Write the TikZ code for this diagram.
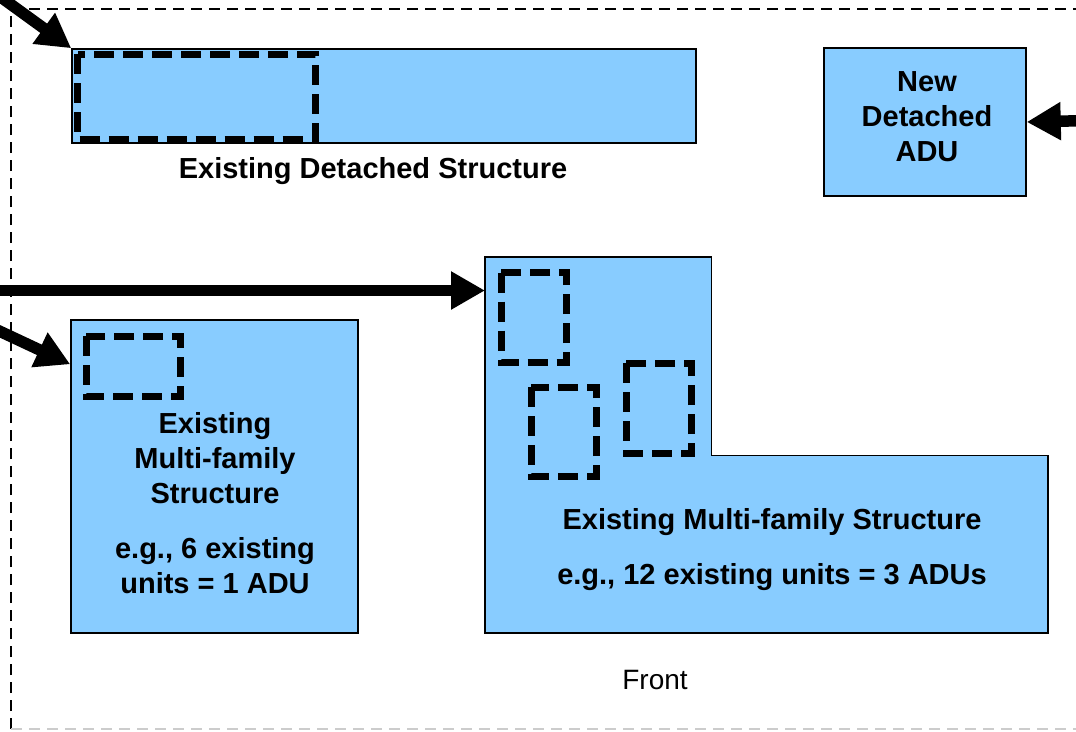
\documentclass[tikz,border=0pt]{standalone}
\usepackage{fontspec}
\setmainfont{Liberation Sans}
\usetikzlibrary{arrows.meta,calc}

\definecolor{adublue}{RGB}{136,204,255}

\tikzset{
  bldg/.style={draw=black, line width=1.5pt, fill=adublue, inner sep=0pt},
  unitdash/.style={line width=7pt, dash pattern=on 20pt off 9pt},
  bigarrow/.style={line width=11.5pt, -{Triangle[length=34pt,width=36pt]}},
  lbl/.style={font=\fontsize{29}{35}\selectfont\bfseries, align=center, inner sep=0pt},
  lotline/.style={line width=1.5pt, dash pattern=on 11pt off 7pt},
}

\begin{document}
\begin{tikzpicture}[x=1pt,y=-1pt]
    \useasboundingbox (0,0) rectangle (1076,731);
    \clip (0,0) rectangle (1076,731);

    % lot line
    \draw[lotline] (11,729) -- (11,9) -- (1100,9);
    \draw[lotline, black!20] (11,729) -- (1100,729);

    % buildings
    \node[bldg, minimum width=624pt, minimum height=94pt] (detached) at (384,96) {};
    \node[bldg, minimum width=202pt, minimum height=148pt] (newadu) at (925,122) {};
    \node[bldg, minimum width=287pt, minimum height=313pt] (mfsmall) at (214.5,476.5) {};

    \coordinate (big-nw) at (485,257);
    \coordinate (big-se) at (1048,633);
    \filldraw[bldg] (big-nw) -- (711.5,257) -- (711.5,455.5) -- (1048,455.5) -- (big-se) -- (485,633) -- cycle;
    \coordinate (bigin) at (485,290.5);

    % converted units
    \draw[unitdash] (77.5,54) rectangle (315,139);
    \draw[unitdash] (86,336) rectangle (180.5,396);
    \draw[unitdash] (501,272.5) rectangle (566.5,362);
    \draw[unitdash] (531,387) rectangle (596,476);
    \draw[unitdash] (626,363) rectangle (691,453);

    % labels
    \node[lbl] (newadutxt) at (927,117) {New\\Detached\\ADU};
    \node[lbl] (detachedtxt) at (373,171) {Existing Detached Structure};
    \node[lbl] (mfsmalltxt) at (215,503.5) {Existing\\Multi-family\\Structure\\[20pt]e.g., 6 existing\\units = 1 ADU};
    \node[lbl] (bigtxt) at (772,550) {Existing Multi-family Structure\\[20pt]e.g., 12 existing units = 3 ADUs};
    \node[font=\fontsize{28}{34}\selectfont, inner sep=0pt] (front) at (655,680) {Front};

    % arrows
    \coordinate (a1) at (-20,-18);
    \coordinate (a2) at (-20,290.5);
    \coordinate (a3) at (-20,322);
    \coordinate (a4) at (1110,120);
    \draw[bigarrow] (a1) -- (detached.north west);
    \draw[bigarrow] (a2) -- (bigin);
    \draw[bigarrow] (a3) -- ($(mfsmall.north west)+(0,45)$);
    \draw[bigarrow] (a4) -- (newadu.east);
\end{tikzpicture}
\end{document}
